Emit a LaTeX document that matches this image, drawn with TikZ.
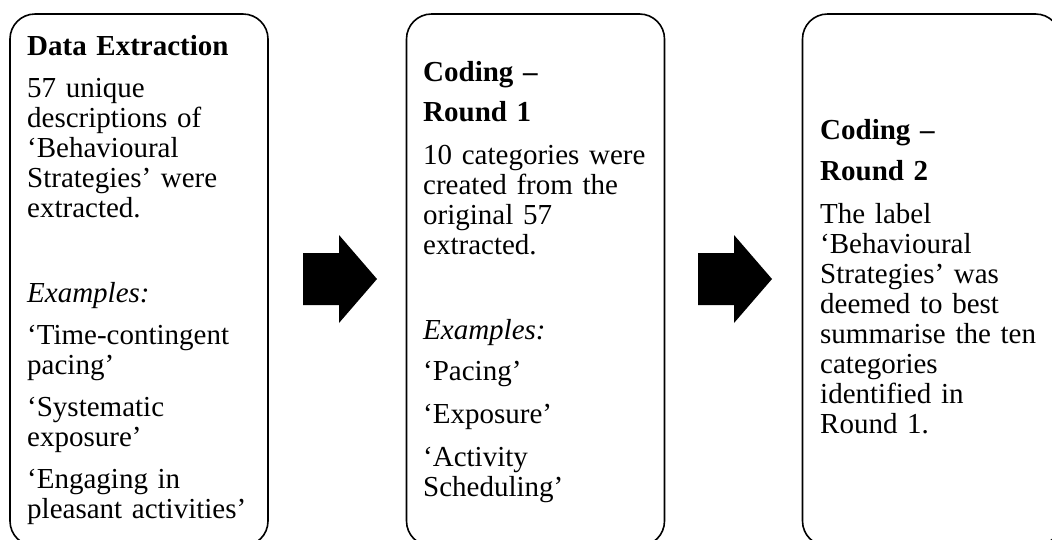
\documentclass[tikz,border=0pt]{standalone}
\usepackage{fontspec}
\setmainfont{Liberation Serif}

\tikzset{
	stagebox/.style={draw, line width=1.6pt, rounded corners=25pt, inner sep=0pt, minimum width=258pt, minimum height=532pt},
	stagetext/.style={anchor=base west, inner sep=0pt, text width=235pt, align=left, font=\fontsize{29}{30}\selectfont},
}

\begin{document}
\begin{tikzpicture}[x=1pt, y=-1pt]
	\useasboundingbox (0,0) rectangle (1052,539);

	%Boxes
	\node[stagebox] (extract) at (139,280) {};
	\node[stagebox] (roundone) at (535.5,280) {};
	\node[stagebox] (roundtwo) at (931.5,280) {};

	%Texts
	\node[stagetext] (extractText) at (27,55) {\textbf{Data Extraction}\\[12pt]
		57 unique\\ descriptions of\\ `Behavioural\\ Strategies' were\\ extracted.\\[55pt]
		\textit{Examples:}\\[12pt]
		`Time-contingent\\ pacing'\\[12pt]
		`Systematic\\ exposure'\\[12pt]
		`Engaging in\\ pleasant activities'};
	\node[stagetext] (roundoneText) at (423,81) {\textbf{Coding --}\\[10pt]
		\textbf{Round 1}\\[13pt]
		10 categories were\\ created from the\\ original 57\\ extracted.\\[55pt]
		\textit{Examples:}\\[11pt]
		`Pacing'\\[13pt]
		`Exposure'\\[13pt]
		`Activity\\ Scheduling'};
	\node[stagetext] (roundtwoText) at (820,139) {\textbf{Coding --}\\[11pt]
		\textbf{Round 2}\\[13pt]
		The label\\ `Behavioural\\ Strategies' was\\ deemed to best\\ summarise the ten\\ categories\\ identified in\\ Round 1.};

	%Arrows
	\foreach \s in {0,395}
		\fill[shift={(\s,0)}] (303,253) -- (339,253) -- (339,235) -- (377,279) -- (339,323) -- (339,305) -- (303,305) -- cycle;
\end{tikzpicture}
\end{document}
